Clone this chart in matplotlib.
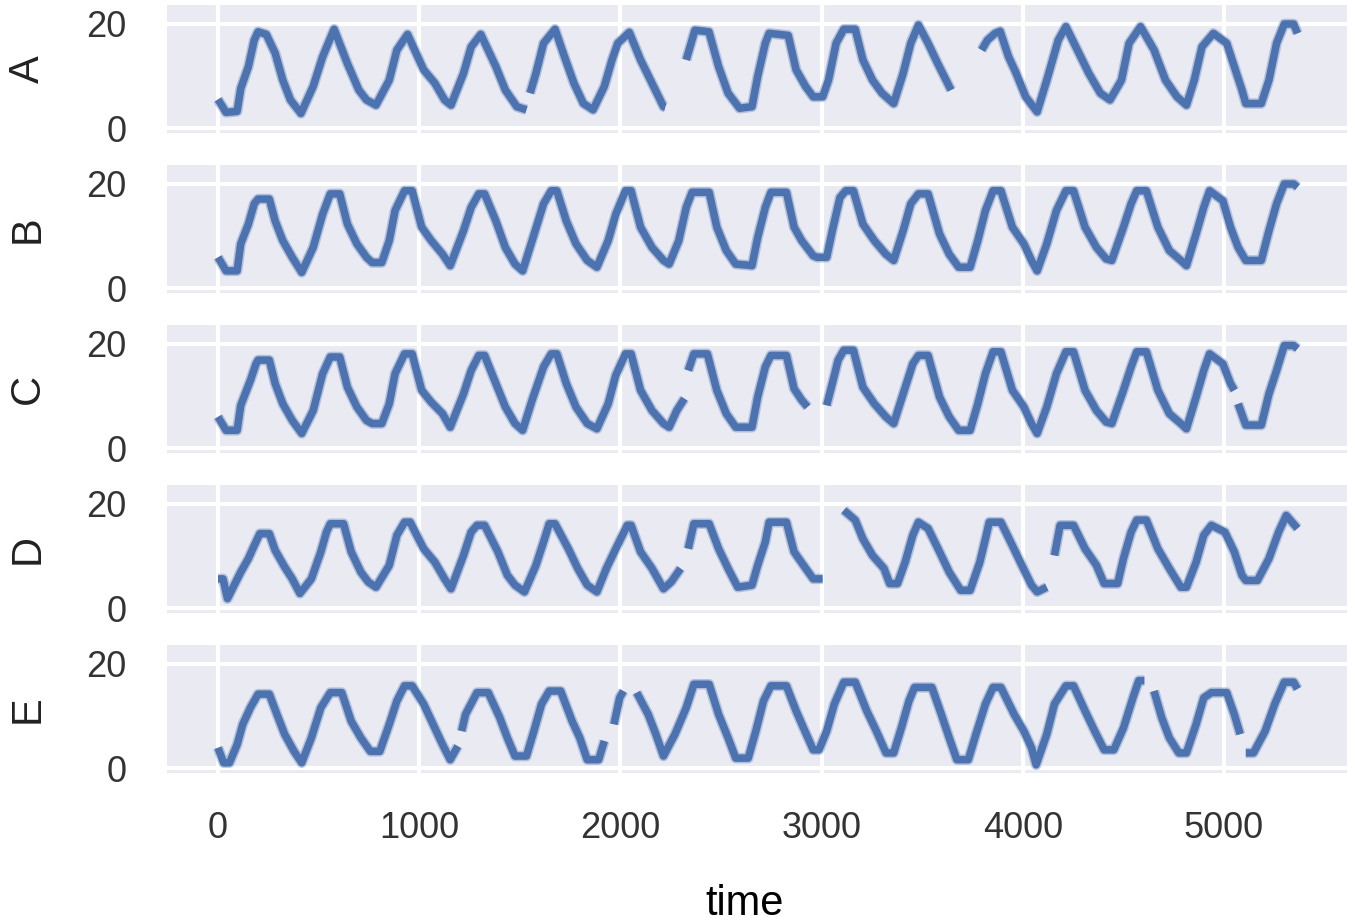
import numpy as np
import matplotlib
matplotlib.use("Agg")
import matplotlib.pyplot as plt

# ---- data: (time, value) points; None marks a gap ----
series_names = ["A", "B", "C", "D", "E"]

A = [(0,5.5),(40,3.0),(95,3.2),(113,7.6),(151,11.8),(180,16.9),(199,18.5),(240,18.0),(284,14.4),(322,9.2),
     (360,5.4),(412,2.8),(473,8.0),(520,13.7),(577,19.0),(643,12.4),(700,7.3),(738,5.4),(785,4.4),(851,9.2),
     (889,15.0),(942,18.0),(1022,11.2),(1078,8.6),(1126,5.4),(1158,4.4),(1220,10.5),(1258,15.6),(1306,18.0),
     (1381,11.8),(1428,7.3),(1485,4.1),(1533,3.5),None,(1551,6.7),(1580,10.5),(1618,16.3),(1675,19.0),
     (1722,13.7),(1769,8.6),(1816,4.7),(1864,3.5),(1920,8.0),(1958,13.1),(1987,16.3),(2044,18.4),(2100,13.1),
     (2157,8.6),(2214,4.1),(2223,4.0),None,(2327,13.1),(2370,18.8),(2440,18.5),(2488,11.8),(2535,6.7),
     (2592,3.8),(2654,4.1),(2682,9.9),(2720,16.3),(2739,18.2),(2834,17.8),(2873,11.2),(2920,8.0),(2958,6.0),
     (3005,6.0),(3034,9.2),(3072,16.3),(3110,19.0),(3167,19.0),(3205,13.1),(3253,9.2),(3300,6.7),(3358,4.7),
     (3405,10.5),(3443,16.3),(3481,19.8),(3529,16.3),(3577,12.4),(3643,7.3),None,(3795,15.0),(3824,16.9),
     (3862,18.2),(3887,18.6),(3929,13.7),(3967,10.5),(4014,6.0),(4071,3.1),(4119,9.2),(4176,16.9),(4214,19.5),
     (4271,15.0),(4328,10.5),(4385,6.7),(4433,5.4),(4490,9.2),(4528,16.3),(4585,19.5),(4652,15.0),(4709,9.2),
     (4766,6.0),(4813,4.4),(4852,9.2),(4890,15.6),(4947,18.2),(5013,16.3),(5051,11.8),(5089,7.3),(5108,4.7),
     (5185,4.7),(5223,9.2),(5261,16.3),(5299,20.0),(5346,20.0),(5365,18.2)]

B = [(0,5.9),(40,3.3),(95,3.3),(113,8.5),(151,12.3),(180,16.2),(199,17.1),(255,17.1),(284,12.9),(322,9.1),
     (369,5.9),(416,3.0),(473,7.8),(520,14.2),(558,18.1),(605,18.1),(643,12.3),(690,8.5),(738,5.9),(766,4.9),
     (814,4.9),(851,9.1),(880,14.9),(927,18.7),(965,18.7),(1012,11.7),(1060,9.1),(1116,6.5),(1154,4.3),
     (1220,11.0),(1258,15.5),(1296,18.1),(1325,18.1),(1381,12.9),(1428,7.8),(1476,4.6),(1514,3.3),(1561,9.1),
     (1618,16.2),(1656,18.7),(1684,18.7),(1731,12.9),(1779,8.5),(1835,5.3),(1883,4.0),(1939,9.1),(1977,14.2),
     (2025,18.7),(2053,18.7),(2100,11.7),(2157,7.8),(2214,5.3),(2242,4.6),(2290,9.1),(2327,15.5),(2356,18.4),
     (2441,18.4),(2479,11.7),(2526,7.2),(2573,4.6),(2630,4.4),(2654,4.3),(2682,9.7),(2720,15.5),(2748,18.4),
     (2825,18.4),(2863,11.7),(2901,9.1),(2958,6.2),(2977,5.9),(3025,5.9),(3053,11.0),(3091,17.4),(3120,18.7),
     (3158,18.7),(3205,12.3),(3262,9.1),(3319,6.5),(3358,5.3),(3405,11.0),(3443,16.2),(3481,18.1),(3529,18.1),
     (3586,10.4),(3634,6.5),(3681,4.0),(3738,4.0),(3776,9.1),(3814,14.9),(3852,18.7),(3891,18.7),(3948,11.7),
     (4005,8.5),(4043,5.3),(4071,3.3),(4119,8.5),(4167,14.9),(4214,18.7),(4252,18.7),(4309,11.7),(4366,7.8),
     (4414,5.6),(4442,5.3),(4500,11.7),(4538,16.2),(4566,18.7),(4614,18.7),(4671,11.7),(4728,7.2),(4785,5.3),
     (4813,4.3),(4861,10.4),(4899,15.5),(4928,18.7),(4994,16.8),(5032,11.7),(5070,7.8),(5108,5.3),(5185,5.3),
     (5223,11.0),(5261,16.2),(5299,20.0),(5346,20.0),(5365,19.4)]

C = [(0,6.0),(40,3.4),(95,3.4),(113,8.2),(161,13.0),(189,16.2),(199,16.9),(255,16.9),(284,12.4),(322,8.5),
     (369,5.3),(416,2.8),(473,7.2),(520,14.3),(558,17.5),(605,17.5),(643,11.7),(690,7.9),(738,5.3),(766,4.7),
     (814,4.7),(851,8.5),(880,14.3),(927,18.1),(965,18.1),(1012,11.1),(1060,8.8),(1116,6.6),(1154,4.0),
     (1220,10.4),(1258,14.9),(1296,17.8),(1325,17.8),(1381,12.4),(1428,7.9),(1476,4.7),(1514,3.4),(1561,9.2),
     (1618,15.6),(1656,18.1),(1684,18.1),(1731,12.4),(1779,7.9),(1835,4.7),(1883,3.7),(1939,8.5),(1977,14.0),
     (2025,18.1),(2053,18.1),(2100,11.1),(2157,7.2),(2214,4.7),(2242,4.0),(2280,7.2),(2318,9.5),None,
     (2337,14.9),(2365,18.1),(2432,18.1),(2479,11.1),(2526,6.6),(2573,4.0),(2654,4.0),(2682,9.8),(2720,15.6),
     (2748,17.8),(2825,17.8),(2863,11.4),(2901,9.2),(2930,7.9),None,(3025,8.2),(3053,12.4),(3082,16.9),
     (3110,18.8),(3158,18.8),(3205,11.7),(3262,8.5),(3319,6.0),(3358,4.7),(3405,10.4),(3453,16.2),(3481,17.8),
     (3529,17.8),(3586,9.8),(3634,6.0),(3681,3.4),(3738,3.4),(3776,8.5),(3814,14.3),(3852,18.5),(3891,18.5),
     (3948,11.1),(4005,7.9),(4043,4.7),(4071,2.8),(4119,7.9),(4167,14.3),(4214,18.5),(4252,18.5),(4309,11.1),
     (4366,7.2),(4414,5.0),(4442,4.7),(4500,11.1),(4538,15.6),(4566,18.5),(4614,18.5),(4671,11.1),(4728,6.6),
     (4785,4.7),(4813,3.7),(4861,9.8),(4899,14.9),(4928,18.1),(4994,16.2),(5032,12.4),(5051,11.1),None,
     (5070,8.5),(5108,4.4),(5185,4.4),(5223,10.4),(5261,14.9),(5299,19.7),(5346,19.7),(5365,19.1)]

D = [(0,5.6),(25,5.6),(47,1.8),(113,6.9),(151,9.5),(180,12.0),(208,14.3),(255,14.3),(284,11.1),(331,7.9),
     (369,5.6),(407,2.8),(464,5.6),(511,10.8),(539,14.6),(558,16.2),(624,16.2),(662,10.8),(710,6.9),(747,5.0),
     (785,4.0),(851,8.2),(889,14.0),(927,16.5),(955,16.5),(1022,11.4),(1078,8.8),(1126,5.6),(1158,3.7),
     (1220,10.1),(1258,14.6),(1287,15.9),(1325,15.9),(1391,10.8),(1438,6.3),(1476,4.4),(1523,3.1),(1580,8.2),
     (1618,12.7),(1646,16.2),(1675,16.2),(1741,11.4),(1788,7.6),(1835,4.4),(1883,3.1),(1930,7.6),(1977,11.4),
     (2034,15.9),(2053,15.9),(2100,10.8),(2157,7.6),(2214,3.7),(2252,5.0),(2299,7.6),None,(2337,11.4),
     (2365,16.2),(2441,16.2),(2488,11.4),(2535,7.6),(2583,4.0),(2654,4.4),(2682,8.2),(2720,12.7),(2739,16.5),
     (2825,16.5),(2863,10.8),(2910,8.2),(2958,5.6),(3005,5.6),None,(3110,18.8),(3167,16.9),(3205,13.3),
     (3253,10.1),(3310,7.6),(3338,4.7),(3377,4.7),(3415,8.8),(3453,14.0),(3481,16.5),(3529,15.3),(3586,10.8),
     (3634,6.9),(3691,3.4),(3738,3.4),(3786,8.8),(3814,13.3),(3833,16.5),(3891,16.5),(3948,12.0),(3995,8.2),
     (4043,4.4),(4071,3.1),(4119,4.0),None,(4157,10.1),(4185,15.9),(4252,15.9),(4309,11.4),(4366,8.2),
     (4404,4.7),(4471,4.7),(4500,9.5),(4538,14.6),(4566,16.9),(4614,16.9),(4671,11.4),(4728,7.6),(4785,4.0),
     (4813,4.0),(4861,8.8),(4899,14.0),(4937,15.9),(5004,14.6),(5051,10.8),(5089,6.3),(5108,5.3),(5166,5.3),
     (5223,9.5),(5271,14.6),(5309,17.8),(5365,15.3)]

E = [(0,3.9),(28,1.0),(57,1.0),(95,4.5),(123,8.4),(161,11.6),(199,14.2),(255,14.2),(293,10.3),(331,6.5),
     (378,3.2),(416,1.0),(464,5.8),(511,11.6),(558,14.5),(615,14.5),(662,9.0),(710,5.8),(757,3.2),(804,3.2),
     (851,8.4),(889,12.9),(927,15.8),(965,15.8),(1022,12.3),(1069,8.4),(1116,4.5),(1154,1.6),(1192,4.2),None,
     (1211,7.1),(1230,10.3),(1287,14.5),(1343,14.5),(1400,9.7),(1438,5.8),(1476,2.3),(1533,2.3),(1570,7.1),
     (1608,12.3),(1646,14.8),(1703,14.8),(1760,9.0),(1798,5.8),(1835,1.6),(1892,1.6),(1920,5.2),None,
     (1968,8.4),(1996,13.5),(2015,14.8),None,(2081,14.5),(2138,10.3),(2176,6.5),(2214,2.3),(2271,6.5),
     (2327,11.6),(2365,16.1),(2441,16.1),(2488,10.3),(2535,5.8),(2573,1.9),(2635,1.9),(2673,7.1),(2711,12.9),
     (2748,15.8),(2825,15.8),(2873,11.0),(2910,7.7),(2958,3.5),(2987,3.5),(3025,7.1),(3063,12.3),(3110,16.5),
     (3167,16.5),(3224,11.0),(3272,7.1),(3320,2.9),(3358,2.9),(3396,7.7),(3434,12.9),(3462,15.5),(3548,15.5),
     (3595,10.3),(3634,5.8),(3672,1.6),(3729,1.6),(3767,6.5),(3814,12.3),(3852,15.5),(3891,15.5),(3957,10.3),
     (4005,7.1),(4043,3.9),(4066,0.6),(4119,6.5),(4157,12.3),(4214,15.8),(4252,15.8),(4309,11.0),(4357,7.1),
     (4404,3.5),(4452,3.5),(4500,7.7),(4547,13.5),(4576,16.8),(4604,16.8),None,(4652,14.8),(4690,9.7),
     (4728,5.8),(4775,2.9),(4813,2.9),(4861,8.4),(4899,13.5),(4937,14.5),(5013,14.5),(5051,10.3),(5080,6.5),
     None,(5108,2.9),(5146,2.9),(5204,7.1),(5252,12.3),(5299,16.5),(5346,16.5),(5365,15.2)]

all_series = [A, B, C, D, E]
x_ticks = [0, 1000, 2000, 3000, 4000, 5000]
y_ticks = [0, 20]
x_label = "time"


def split(points):
    t = [np.nan if p is None else p[0] for p in points]
    v = [np.nan if p is None else p[1] for p in points]
    return np.array(t, float), np.array(v, float)


W, H = 1347, 924
fig = plt.figure(figsize=(W / 100, H / 100), dpi=100)
font = "Liberation Sans"
line_color = "#4C72B0"

for i, (name, pts) in enumerate(zip(series_names, all_series)):
    top = 5 + 160 * i
    ax = fig.add_axes([167 / W, 1 - (top + 128) / H, 1180 / W, 128 / H])
    ax.set_facecolor("#EAEAF2")
    for s in ax.spines.values():
        s.set_visible(False)
    ax.grid(True, color="white", linewidth=3.0)
    ax.set_axisbelow(True)
    t, v = split(pts)
    # soft halo (the reference line is a slightly blurred, noisy band)
    ax.plot(t, v, color=line_color, alpha=0.35, linewidth=7.6,
            solid_joinstyle="round", solid_capstyle="butt")
    ax.plot(t, v, color=line_color, linewidth=5.4, solid_joinstyle="round",
            solid_capstyle="butt")
    ax.set_xlim(-253.5, 5611)
    ax.set_ylim(-0.96, 23.65)
    ax.set_xticks(x_ticks)
    ax.set_yticks(y_ticks)
    ax.tick_params(axis="both", length=0, labelsize=26, labelcolor="#333333")
    ax.tick_params(axis="y", pad=29)
    ax.tick_params(axis="x", pad=27)
    for lab in ax.get_yticklabels() + ax.get_xticklabels():
        lab.set_fontfamily(font)
    if i < 4:
        ax.set_xticklabels([])
    ax.set_ylabel(name, fontsize=30, fontfamily=font, color="#222222")
    ax.yaxis.set_label_coords(-0.1008, 0.5)

fig.text(745 / W, 9 / H, x_label, ha="center", va="baseline", fontsize=30,
         fontfamily=font, color="black")

fig.savefig("out.png", dpi=100)
